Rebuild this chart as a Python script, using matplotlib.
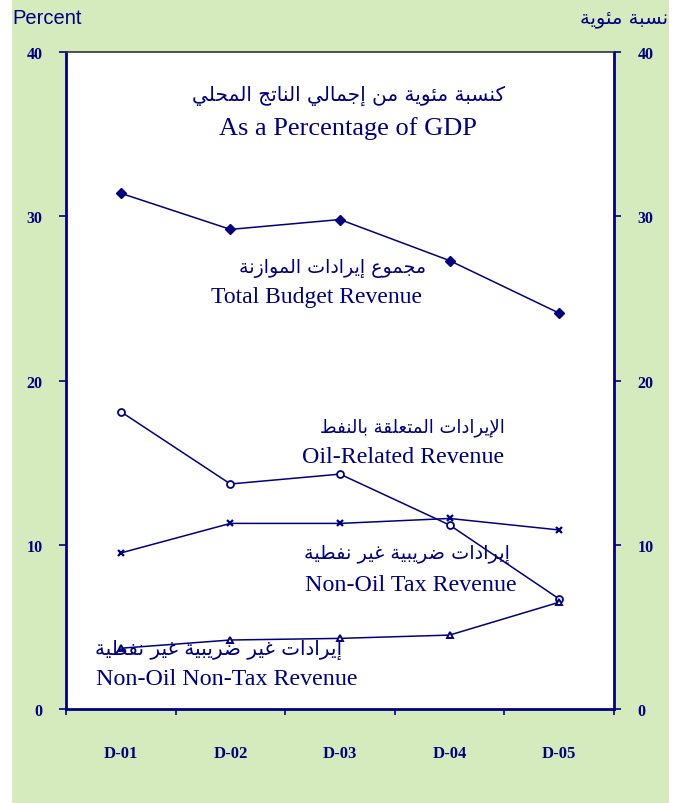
import matplotlib
matplotlib.use("Agg")
import matplotlib.pyplot as plt
from matplotlib.patches import Rectangle

# ---------------- data ----------------
categories = ["D-01", "D-02", "D-03", "D-04", "D-05"]
total_budget = [31.4, 29.2, 29.8, 27.3, 24.1]
oil_related = [18.1, 13.7, 14.3, 11.2, 6.7]
non_oil_tax = [9.5, 11.3, 11.3, 11.6, 10.9]
non_oil_non_tax = [3.7, 4.2, 4.3, 4.5, 6.5]
y_ticks = [0, 10, 20, 30, 40]

NAVY = "#000080"
GREEN = "#d5ebbd"

# ------------- minimal Arabic shaping (presentation forms + RTL) -------------
FORMS = {
    'ا': ('\uFE8D', '\uFE8E', None, None),
    'إ': ('\uFE87', '\uFE88', None, None),
    'ب': ('\uFE8F', '\uFE90', '\uFE91', '\uFE92'),
    'ة': ('\uFE93', '\uFE94', None, None),
    'ت': ('\uFE95', '\uFE96', '\uFE97', '\uFE98'),
    'ج': ('\uFE9D', '\uFE9E', '\uFE9F', '\uFEA0'),
    'ح': ('\uFEA1', '\uFEA2', '\uFEA3', '\uFEA4'),
    'د': ('\uFEA9', '\uFEAA', None, None),
    'ر': ('\uFEAD', '\uFEAE', None, None),
    'ز': ('\uFEAF', '\uFEB0', None, None),
    'س': ('\uFEB1', '\uFEB2', '\uFEB3', '\uFEB4'),
    'ض': ('\uFEBD', '\uFEBE', '\uFEBF', '\uFEC0'),
    'ط': ('\uFEC1', '\uFEC2', '\uFEC3', '\uFEC4'),
    'ع': ('\uFEC9', '\uFECA', '\uFECB', '\uFECC'),
    'غ': ('\uFECD', '\uFECE', '\uFECF', '\uFED0'),
    'ف': ('\uFED1', '\uFED2', '\uFED3', '\uFED4'),
    'ق': ('\uFED5', '\uFED6', '\uFED7', '\uFED8'),
    'ك': ('\uFED9', '\uFEDA', '\uFEDB', '\uFEDC'),
    'ل': ('\uFEDD', '\uFEDE', '\uFEDF', '\uFEE0'),
    'م': ('\uFEE1', '\uFEE2', '\uFEE3', '\uFEE4'),
    'ن': ('\uFEE5', '\uFEE6', '\uFEE7', '\uFEE8'),
    'و': ('\uFEED', '\uFEEE', None, None),
    'ي': ('\uFEF1', '\uFEF2', '\uFEF3', '\uFEF4'),
    'ئ': ('\uFE89', '\uFE8A', '\uFE8B', '\uFE8C'),
}


def shape(s):
    tokens = []
    i = 0
    while i < len(s):
        c = s[i]
        if c == 'ل' and i + 1 < len(s) and s[i + 1] in ('ا', 'إ'):
            tokens.append(('LA', s[i + 1]))
            i += 2
        else:
            tokens.append(c)
            i += 1
    out = []
    for k, t in enumerate(tokens):
        prev = tokens[k - 1] if k > 0 else None
        nxt = tokens[k + 1] if k + 1 < len(tokens) else None
        prev_joins = isinstance(prev, str) and prev in FORMS and FORMS[prev][2] is not None
        if isinstance(t, tuple):
            iso, fin = ('\uFEFB', '\uFEFC') if t[1] == 'ا' else ('\uFEF9', '\uFEFA')
            out.append(fin if prev_joins else iso)
            continue
        if t not in FORMS:
            out.append(t)
            continue
        f = FORMS[t]
        next_ok = f[2] is not None and nxt is not None and (isinstance(nxt, tuple) or nxt in FORMS)
        if prev_joins and next_ok:
            out.append(f[3])
        elif prev_joins:
            out.append(f[1])
        elif next_ok:
            out.append(f[2])
        else:
            out.append(f[0])
    return ''.join(reversed(out))


# ---------------- figure ----------------
fig = plt.figure(figsize=(6.84, 8.04), dpi=100)
fig.patch.set_facecolor("white")
fig.add_artist(Rectangle((12 / 684, 0), (669 - 12) / 684, 1, transform=fig.transFigure,
                         facecolor=GREEN, edgecolor="none", zorder=0))

ax = fig.add_axes([66 / 684, 1 - 710 / 804, (614 - 66) / 684, (710 - 53) / 804])
ax.set_facecolor("white")
x = list(range(len(categories)))

ax.plot(x, total_budget, color=NAVY, lw=1.1, marker="D", ms=5, mfc=NAVY, mec=NAVY, zorder=3)
ax.plot(x, oil_related, color=NAVY, lw=1.1, marker="o", ms=5, mfc="white", mec=NAVY, mew=1.3, zorder=3)
ax.plot(x, non_oil_tax, color=NAVY, lw=1.1, marker="x", ms=4.5, mec=NAVY, mew=1.6, zorder=3)
ax.plot(x, non_oil_non_tax, color=NAVY, lw=1.1, marker="^", ms=5, mfc="white", mec=NAVY, mew=1.4, zorder=3)

ax.set_xlim(-0.5, len(categories) - 0.5)
ax.set_ylim(0, 40)
ax.set_xticks([i - 0.5 for i in range(len(categories) + 1)])
ax.set_xticklabels([])
ax.set_xticks(x, minor=True)
ax.set_xticklabels(categories, minor=True)
ax.tick_params(axis="x", which="major", direction="out", length=4, width=1.2, color=NAVY)
ax.tick_params(axis="x", which="minor", length=0, pad=26)
for lab in ax.get_xticklabels(minor=True):
    lab.set_fontfamily("Liberation Serif")
    lab.set_fontweight("bold")
    lab.set_fontsize(12)
    lab.set_color(NAVY)

ax.set_yticks(y_ticks)
ax.tick_params(axis="y", which="both", direction="out", length=5, width=1.2, color=NAVY,
               left=True, right=True, labelleft=True, labelright=True, pad=12)
for t in ax.yaxis.get_major_ticks():
    for lab in (t.label1, t.label2):
        lab.set_fontfamily("Liberation Serif")
        lab.set_fontweight("bold")
        lab.set_fontsize(11.5)
        lab.set_color(NAVY)

for side in ("left", "right", "bottom"):
    ax.spines[side].set_color(NAVY)
    ax.spines[side].set_linewidth(2.0)
ax.spines["top"].set_color("#333333")
ax.spines["top"].set_linewidth(1.2)

serif = dict(family="Liberation Serif", color=NAVY)
arab = dict(family=["DejaVu Sans"], color=NAVY)

# title
ax.text(2.08, 37.4, shape("كنسبة مئوية من إجمالي الناتج المحلي"), ha="center", va="center", fontsize=14.4, **arab)
ax.text(2.07, 35.4, "As a Percentage of GDP", ha="center", va="center", fontsize=19, **serif)

# series labels
ax.text(2.79, 26.9, shape("مجموع إيرادات الموازنة"), ha="right", va="center", fontsize=13.7, **arab)
ax.text(2.75, 25.1, "Total Budget Revenue", ha="right", va="center", fontsize=17, **serif)

ax.text(3.50, 17.2, shape("الإيرادات المتعلقة بالنفط"), ha="right", va="center", fontsize=13, **arab)
ax.text(3.50, 15.35, "Oil-Related Revenue", ha="right", va="center", fontsize=17.3, **serif)

ax.text(3.55, 9.45, shape("إيرادات ضريبية غير نفطية"), ha="right", va="center", fontsize=13.9, **arab)
ax.text(3.615, 7.6, "Non-Oil Tax Revenue", ha="right", va="center", fontsize=17.3, **serif)

ax.text(-0.235, 3.65, shape("إيرادات غير ضريبية غير نفطية"), ha="left", va="center", fontsize=14.3, **arab)
ax.text(-0.226, 1.83, "Non-Oil Non-Tax Revenue", ha="left", va="center", fontsize=17.3, **serif)

# unit labels
fig.text(12 / 684, 1 - 18 / 804, "Percent", ha="left", va="center", fontsize=14.5,
         family="Liberation Sans", color=NAVY)
fig.text(668 / 684, 1 - 18 / 804, shape("نسبة مئوية"), ha="right", va="center", fontsize=14,
         family=["DejaVu Sans"], color=NAVY)

fig.savefig("out.png", dpi=100, facecolor=fig.get_facecolor())
